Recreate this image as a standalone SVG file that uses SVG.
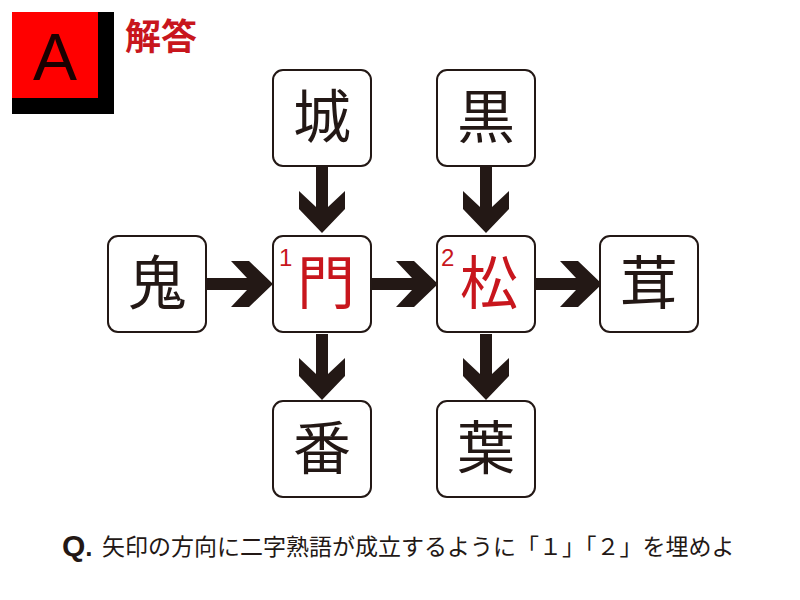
<svg xmlns="http://www.w3.org/2000/svg" width="800" height="600" viewBox="0 0 800 600">
<defs>
<style>
.box{fill:#fff;stroke:#231815;stroke-width:2}
.k{font-family:"Noto Sans CJK JP",sans-serif;font-size:58px;fill:#231815;text-anchor:middle}
.r{fill:#c8161d}
.n{font-family:"Liberation Sans",sans-serif;font-size:24px;fill:#c8161d}
.ar{fill:#231815}
</style>
<polygon id="ad" points="-6,0 6,0 6,40 23,24 23,42 0,66 -23,42 -23,24 -6,40"/>
</defs>
<rect width="800" height="600" fill="#fff"/>
<rect x="12" y="12" width="102" height="102" fill="#000"/>
<rect x="12" y="12" width="86" height="86" fill="#ff0000"/>
<text x="55" y="80" font-family="Liberation Sans,sans-serif" font-size="66" text-anchor="middle" fill="#1a0000">A</text>
<text x="125" y="50" font-family="Noto Sans CJK JP,sans-serif" font-size="36" font-weight="bold" fill="#c8161d">解答</text>
<g id="connectors" class="ar">
<use href="#ad" transform="translate(322,167)"/>
<use href="#ad" transform="translate(486,167)"/>
<use href="#ad" transform="translate(322,334)"/>
<use href="#ad" transform="translate(486,334)"/>
<use href="#ad" transform="translate(207,284) rotate(-90)"/>
<use href="#ad" transform="translate(372,284) rotate(-90)"/>
<use href="#ad" transform="translate(536,284) rotate(-90)"/>
</g>
<g id="n-castle"><rect class="box" x="273" y="70" width="98" height="96" rx="10"/><text class="k" x="322" y="138">城</text></g>
<g id="n-black"><rect class="box" x="437" y="70" width="98" height="96" rx="10"/><text class="k" x="486" y="138">黒</text></g>
<g id="n-oni"><rect class="box" x="108" y="236" width="98" height="96" rx="10"/><text class="k" x="157" y="304">鬼</text></g>
<g id="n-1"><rect class="box" x="273" y="236" width="98" height="96" rx="10"/><text class="k r" x="326" y="304">門</text><text class="n" x="279" y="266">1</text></g>
<g id="n-2"><rect class="box" x="437" y="236" width="98" height="96" rx="10"/><text class="k r" x="489" y="304">松</text><text class="n" x="441" y="266">2</text></g>
<g id="n-mush"><rect class="box" x="600" y="236" width="98" height="96" rx="10"/><text class="k" x="649" y="304">茸</text></g>
<g id="n-ban"><rect class="box" x="273" y="401" width="98" height="96" rx="10"/><text class="k" x="322" y="469">番</text></g>
<g id="n-leaf"><rect class="box" x="437" y="401" width="98" height="96" rx="10"/><text class="k" x="486" y="469">葉</text></g>
<text x="62" y="556" font-family="Liberation Sans,sans-serif" font-size="30" font-weight="bold" fill="#231815">Q<tspan font-size="26">.</tspan></text>
<text x="102" y="555" font-family="Noto Sans CJK JP,sans-serif" font-size="23" fill="#231815">矢印の方向に二字熟語が成立するように「１」「２」を埋めよ</text>
</svg>
